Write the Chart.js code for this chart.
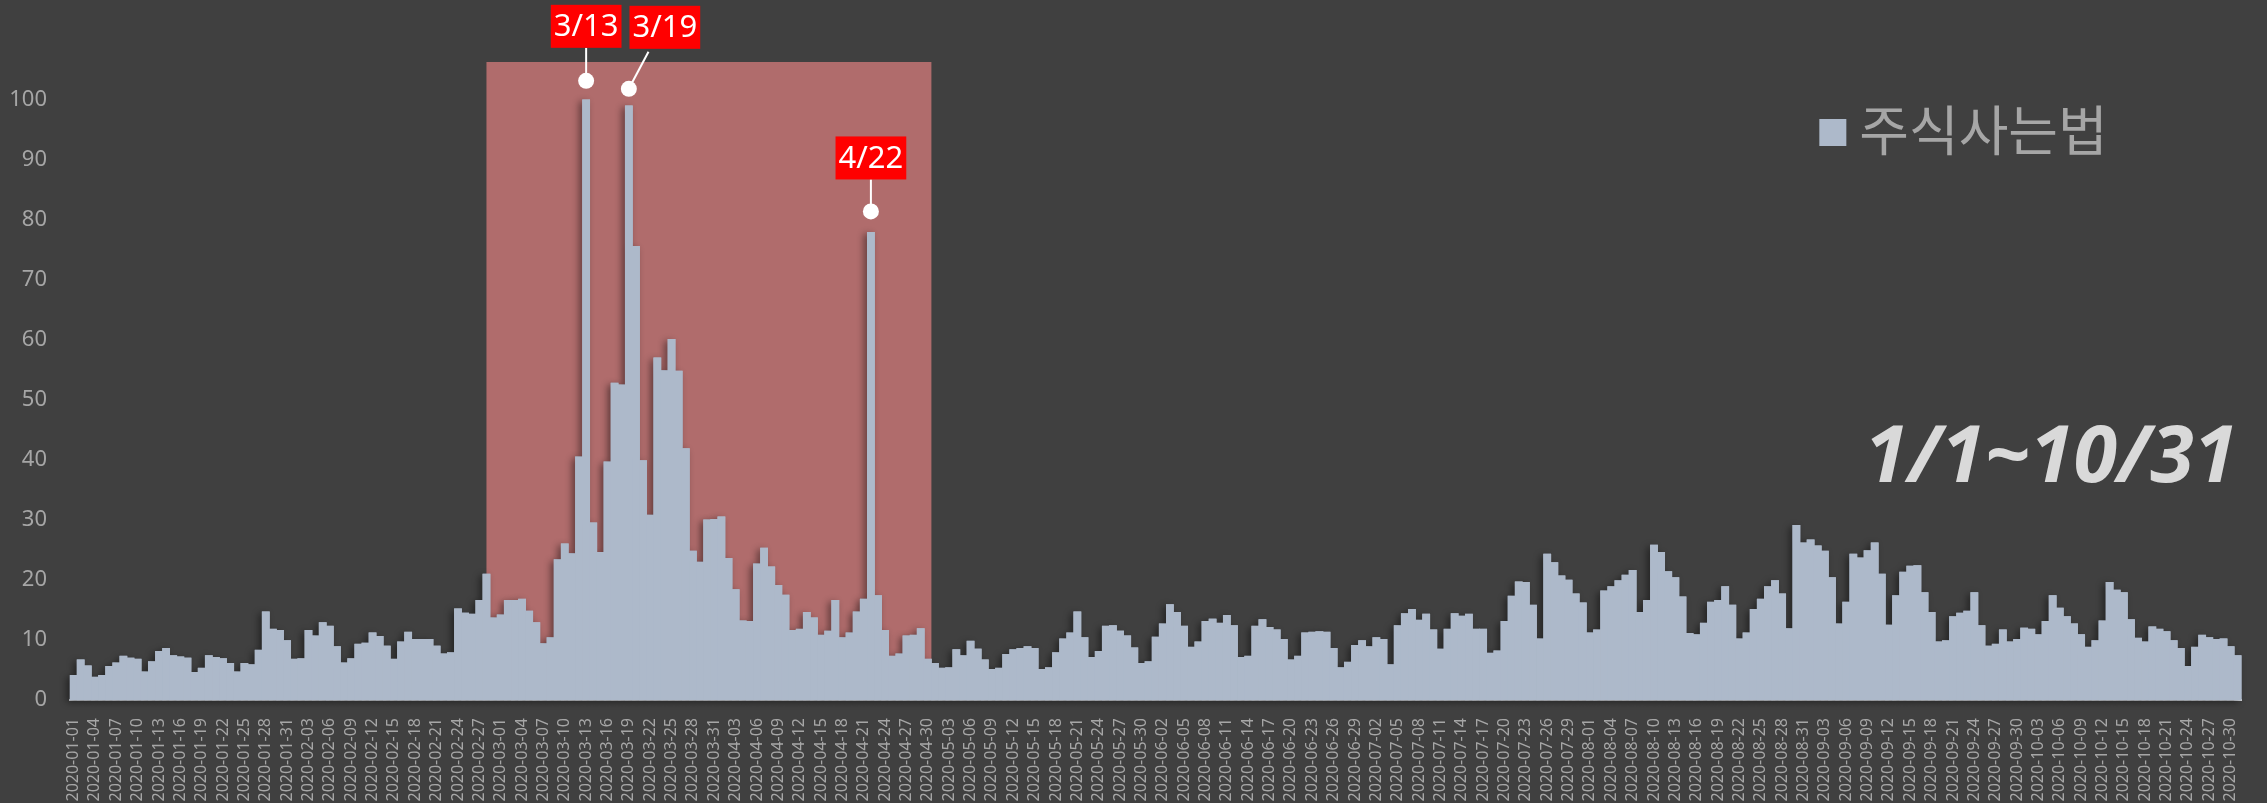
<!DOCTYPE html>
<html>
<head>
<meta charset="utf-8">
<script src="https://cdn.jsdelivr.net/npm/chart.js@4.4.1/dist/chart.umd.min.js"></script>
<style>
  html, body { margin: 0; padding: 0; background: #404040; }
  #wrap { width: 2267px; height: 803px; position: relative; }
</style>
</head>
<body>
<div id="wrap"><canvas id="Chart"></canvas></div>
<script>
// 날짜: 2020-01-01 ~ 2020-10-31 (하루 단위)
const firstDay = "2020-01-01";
const dayCount = 305;
const days = [];
for (let i = 0; i < dayCount; i++) {
  days.push(new Date(Date.UTC(2020, 0, 1 + i)).toISOString().slice(0, 10));
}
const labelEvery = 3; // x축 라벨은 3일마다

// 월별 검색량
const jan = [4.1, 6.7, 5.7, 3.8, 4.1, 5.6, 6.2, 7.3, 7.0, 6.8, 4.7, 6.4, 8.1, 8.6, 7.4, 7.2,
  7.0, 4.6, 5.3, 7.4, 7.1, 6.9, 6.1, 4.7, 6.1, 5.9, 8.3, 14.7, 11.8, 11.6, 9.9];
const feb = [6.8, 6.9, 11.6, 10.7, 12.9, 12.3, 8.9, 6.2, 6.9, 9.3, 9.5, 11.2, 10.6, 9.0, 6.8,
  9.7, 11.3, 10.1, 10.1, 10.1, 9.0, 7.7, 7.9, 15.2, 14.5, 14.3, 16.6, 21.0, 13.7];
const mar = [14.2, 16.6, 16.6, 16.8, 14.8, 12.9, 9.4, 10.4, 23.4, 26.0, 24.4, 40.5, 100, 29.5,
  24.6, 39.7, 52.8, 52.5, 99, 75.6, 39.9, 30.8, 57.0, 54.9, 60.1, 54.8, 41.9, 24.8, 23.0, 30.0, 30.1];
const apr = [30.5, 23.6, 18.4, 13.2, 13.1, 22.7, 25.3, 22.2, 19.1, 17.5, 11.6, 11.8, 14.6, 13.7,
  10.8, 11.5, 16.6, 10.4, 11.2, 14.7, 16.8, 77.9, 17.4, 11.6, 7.3, 7.7, 10.7, 10.8, 11.9, 6.8];
const may = [6.1, 5.3, 5.4, 8.4, 7.4, 9.8, 8.5, 6.7, 5.1, 5.3, 7.6, 8.4, 8.6, 8.9, 8.6, 5.1, 5.4,
  7.9, 10.2, 11.2, 14.7, 10.4, 7.1, 8.1, 12.3, 12.4, 11.5, 10.7, 8.7, 6.1, 6.4];
const jun = [10.5, 12.7, 15.9, 14.6, 12.3, 8.8, 9.7, 13.1, 13.5, 12.8, 14.1, 12.4, 7.1, 7.3, 12.3,
  13.4, 12.1, 11.7, 10.1, 6.7, 7.3, 11.2, 11.3, 11.4, 11.3, 8.6, 5.4, 6.3, 9.1, 9.9];
const jul = [8.9, 10.4, 10.1, 5.9, 12.4, 14.4, 15.1, 13.3, 14.3, 11.7, 8.5, 11.8, 14.4, 14.0, 14.3,
  11.8, 11.8, 7.8, 8.2, 13.1, 17.3, 19.7, 19.6, 15.8, 10.2, 24.3, 22.9, 20.7, 20.0, 17.7, 16.2];
const aug = [11.2, 11.7, 18.2, 18.9, 19.9, 20.8, 21.6, 14.6, 16.6, 25.8, 24.6, 21.4, 20.4, 17.2,
  11.1, 10.9, 12.8, 16.3, 16.6, 18.9, 15.8, 10.2, 11.2, 15.1, 16.8, 18.9, 19.9, 17.7, 11.9, 29.1, 26.2];
const sep = [26.7, 25.7, 24.8, 20.4, 12.7, 16.3, 24.3, 23.7, 24.9, 26.2, 21.0, 12.5, 17.4, 21.3,
  22.3, 22.4, 17.9, 14.6, 9.7, 9.9, 13.9, 14.5, 14.8, 17.9, 12.4, 9.0, 9.3, 11.7, 9.7, 10.1];
const oct = [12.0, 11.8, 10.9, 13.1, 17.4, 15.3, 13.9, 12.7, 10.9, 8.8, 9.9, 13.2, 19.6, 18.3,
  17.9, 13.4, 10.3, 9.7, 12.2, 11.8, 11.4, 9.9, 8.6, 5.6, 8.8, 10.8, 10.4, 10.1, 10.2, 8.9, 7.4];

const values = [...jan, ...feb, ...mar, ...apr, ...may, ...jun, ...jul, ...aug, ...sep, ...oct];

const seriesName = "주식사는법";
const periodText = "1/1~10/31";

// 강조 구간과 표시한 날짜
const shadeFrom = "2020-02-28";
const shadeTo = "2020-04-30";
const highlightDays = ["2020-03-13", "2020-03-19", "2020-04-22"];
const highlightText = ["3/13", "3/19", "4/22"];

// 스타일
const barColor = "#adb9ca";
const textGrey = "#a6a6a6";
const calloutStyle = [
  { gap: 19, rise: 33, dx: 0 },
  { gap: 17, rise: 40, dx: 36 },
  { gap: 21, rise: 32, dx: 0 }
];

// 강조 구간 + 막대 그림자
const backdrop = {
  id: "backdrop",
  beforeDatasetsDraw(chart) {
    const { ctx, chartArea, scales: { x } } = chart;
    const half = (x.getPixelForValue(1) - x.getPixelForValue(0)) / 2;
    const left = x.getPixelForValue(days.indexOf(shadeFrom));
    const right = x.getPixelForValue(days.indexOf(shadeTo)) + half;
    ctx.save();
    ctx.fillStyle = "#b06c6c";
    ctx.fillRect(left, chartArea.top, right - left, chartArea.bottom - chartArea.top);
    ctx.shadowColor = "rgba(0,0,0,0.45)";
    ctx.shadowBlur = 7;
    ctx.shadowOffsetX = -3;
    ctx.shadowOffsetY = 2;
    chart.getDatasetMeta(0).data.forEach(bar => bar.draw(ctx));
    ctx.restore();
  }
};

// 날짜 말풍선
const callouts = {
  id: "callouts",
  afterDatasetsDraw(chart) {
    const { ctx, scales: { x, y } } = chart;
    ctx.save();
    ctx.font = "31px 'Noto Sans'";
    ctx.textAlign = "center";
    ctx.textBaseline = "middle";
    highlightDays.forEach((day, k) => {
      const i = days.indexOf(day);
      const o = calloutStyle[k];
      const cx = x.getPixelForValue(i);
      const cy = y.getPixelForValue(values[i]) - o.gap;
      const w = ctx.measureText(highlightText[k]).width + 6;
      const h = 43;
      const boxX = cx + o.dx - w / 2;
      const boxBottom = cy - o.rise;

      ctx.strokeStyle = "#ffffff";
      ctx.lineWidth = 2;
      ctx.beginPath();
      ctx.moveTo(cx, cy);
      ctx.lineTo(o.dx ? boxX + 19 : cx, o.dx ? boxBottom + 3 : boxBottom);
      ctx.stroke();

      ctx.fillStyle = "#ffffff";
      ctx.beginPath();
      ctx.arc(cx, cy, 8, 0, Math.PI * 2);
      ctx.fill();

      ctx.fillStyle = "#ff0000";
      ctx.fillRect(boxX, boxBottom - h, w, h);
      ctx.fillStyle = "#ffffff";
      ctx.fillText(highlightText[k], boxX + w / 2, boxBottom - h / 2 + 1);
    });
    ctx.restore();
  }
};

// 범례와 기간 문구
const extras = {
  id: "extras",
  afterDraw(chart) {
    const { ctx, chartArea } = chart;
    ctx.save();
    const lx = chartArea.right - 422;
    const ly = 119;
    ctx.fillStyle = barColor;
    ctx.fillRect(lx, ly, 27, 27);
    ctx.fillStyle = textGrey;
    ctx.font = "54px 'Noto Sans CJK KR'";
    ctx.textBaseline = "middle";
    ctx.fillText(chart.data.datasets[0].label, lx + 40, ly + 11);

    ctx.fillStyle = "#d9d9d9";
    ctx.font = "italic bold 79px 'Open Sans'";
    ctx.textAlign = "right";
    ctx.textBaseline = "alphabetic";
    ctx.fillText(periodText, chartArea.right - 4, 482);
    ctx.restore();
  }
};

const myChart = new Chart(document.getElementById("Chart"), {
  type: "bar",
  data: {
    labels: days,
    datasets: [{
      label: seriesName,
      data: values,
      backgroundColor: barColor,
      borderWidth: 0,
      categoryPercentage: 1,
      barPercentage: 1
    }]
  },
  options: {
    responsive: true,
    maintainAspectRatio: false,
    animation: false,
    layout: { padding: { top: 62, right: 20, bottom: 0, left: 0 } },
    plugins: {
      legend: { display: false },
      tooltip: { enabled: false }
    },
    scales: {
      x: {
        grid: { display: false },
        border: { display: true, color: "#d9d9d9", width: 2 },
        ticks: {
          autoSkip: false,
          minRotation: 90,
          maxRotation: 90,
          padding: 10,
          color: textGrey,
          font: { family: "'Noto Sans'", size: 16 },
          callback: (v, i) => (i % labelEvery === 0 ? days[i] : "")
        },
        afterFit: s => { s.height = 103; }
      },
      y: {
        min: 0,
        max: 106.3,
        grid: { display: false },
        border: { display: false },
        ticks: {
          stepSize: 10,
          padding: 15,
          color: textGrey,
          font: { family: "'Noto Sans'", size: 22 },
          callback: v => (v <= 100 && v % 10 === 0 ? v : "")
        },
        afterFit: s => { s.width = 70; }
      }
    }
  },
  plugins: [backdrop, callouts, extras]
});
</script>
</body>
</html>
